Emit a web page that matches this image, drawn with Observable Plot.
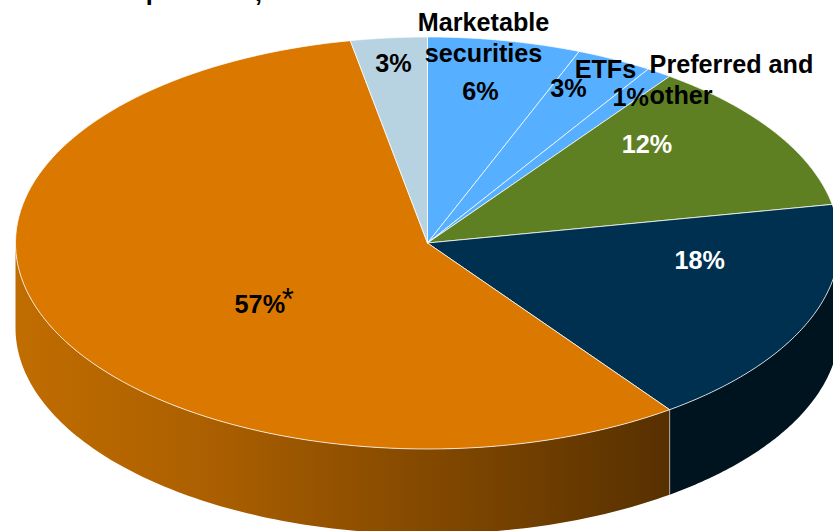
<!DOCTYPE html>
<html>
<head>
<meta charset="utf-8">
<script src="https://cdn.jsdelivr.net/npm/d3@7"></script>
<script src="https://cdn.jsdelivr.net/npm/@observablehq/plot@0.6"></script>
<style>
html,body{margin:0;padding:0;background:#fff;overflow:hidden}
</style>
</head>
<body>
<div id="chart"></div>
<script>
// Data, clockwise from twelve o'clock
const shares = [6, 3, 1, 12, 18, 57, 3];
const percentLabels = ["6%", "3%", "1%", "12%", "18%", "57%", "3%"];
const categoryLabels = ["Marketable\nsecurities", "ETFs", "Preferred and\nother"];
const sliceColors = ["#56afff", "#56afff", "#56afff", "#5f8022", "#003050", "#db7800", "#b7d3e2"];
const labelColors = ["#000", "#000", "#000", "#fff", "#fff", "#000", "#000"];
// Only the lowest strokes of the cropped title survive at the top edge of the reference
const titleFragments = ["p", ","];

// Layout
const RX = 412, RY = 206, DEPTH = 85 / RY, FONT = "Liberation Sans, Arial, sans-serif", SIZE = 25.2;
const nudges = [[-1, -11], [10, -28], [41, -28], [-24, -23], [4, -37], [97, 3], [-7, -37]];
const fragmentSpots = [[-274 / RX, 253 / RY], [-169 / RX, 252 / RY]];

const rad = (p) => (p * 3.6 * Math.PI) / 180;
const rim = (p, drop = 0) => ({x: Math.sin(rad(p)), y: Math.cos(rad(p)) - drop});
const arcPts = (a, b, drop = 0) => d3.range(0, 121).map((i) => rim(a + ((b - a) * i) / 120, drop));

let acc = 0;
const slices = shares.map((v, i) => {
  const s = {a: acc, b: acc + v, i};
  acc += v;
  return s;
});

// Visible wall of the disc runs from 25 to 75 on the percent circle
const wall = (a, b) => [...arcPts(a, b), ...arcPts(a, b, DEPTH).reverse()];
const navy = slices[4], orange = slices[5];

const labels = slices.map((s) => {
  const m = rim((s.a + s.b) / 2);
  const [nx, ny] = nudges[s.i];
  return {x: m.x * 0.7 + nx / RX, y: m.y * 0.7 - ny / RY, text: percentLabels[s.i], color: labelColors[s.i]};
});

const gradient = () => {
  const defs = d3.create("svg:defs");
  const g = defs.append("linearGradient").attr("id", "wallOrange");
  g.append("stop").attr("offset", "0%").attr("stop-color", "#c06d00");
  g.append("stop").attr("offset", "28%").attr("stop-color", "#ad6000");
  g.append("stop").attr("offset", "100%").attr("stop-color", "#573000");
  return defs.node();
};

const text = (d, o) => Plot.text(d, {
  x: "x", y: "y", text: "text", fontFamily: FONT, fontWeight: 700, fontSize: SIZE,
  lineHeight: 1.24, ...o
});

const chart = Plot.plot({
  width: 833,
  height: 531,
  margin: 0,
  x: {domain: [-1, 1], range: [15, 839], axis: null},
  y: {domain: [-1, 1], range: [448.5, 36.5], axis: null},
  marks: [
    gradient,
    Plot.line(wall(25, navy.b), {x: "x", y: "y", fill: "#00141f", stroke: "none"}),
    Plot.line(wall(orange.a, 75), {x: "x", y: "y", fill: "url(#wallOrange)", stroke: "none"}),
    Plot.line([rim(orange.a), rim(orange.a, DEPTH)], {x: "x", y: "y", stroke: "#b5aa9c", strokeWidth: 1}),
    ...slices.map((s) => Plot.line(
      [{x: 0, y: 0}, ...arcPts(s.a, s.b), {x: 0, y: 0}],
      {x: "x", y: "y", fill: sliceColors[s.i], stroke: "#fff", strokeWidth: 1, strokeOpacity: 0.75, strokeLinejoin: "round"}
    )),
    text(labels.map((d) => ({...d})), {fill: "color"}),
    text([{x: labels[5].x, y: labels[5].y, text: "*"}], {fill: "#000", dx: 28, dy: -6, fontSize: 31, fontWeight: 400}),
    text([{x: labels[0].x, y: labels[0].y, text: categoryLabels[0]}], {fill: "#000", dx: 3, dy: -53.5}),
    text([{x: labels[1].x, y: labels[1].y, text: categoryLabels[1]}], {fill: "#000", dx: 37, dy: -19}),
    text([{x: labels[2].x, y: labels[2].y, text: categoryLabels[2]}], {fill: "#000", dx: 19, dy: -17, textAnchor: "start"}),
    text(titleFragments.map((t, i) => ({text: t, x: fragmentSpots[i][0], y: fragmentSpots[i][1]})), {fill: "#000"})
  ],
  color: {type: "identity"}
});
document.getElementById("chart").append(chart);
</script>
</body>
</html>
